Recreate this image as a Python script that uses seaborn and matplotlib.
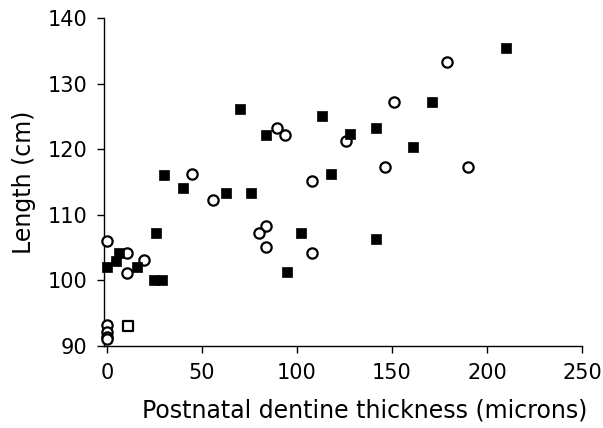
import matplotlib
matplotlib.use("Agg")
import matplotlib.pyplot as plt
import seaborn as sns
import pandas as pd

# Filled squares
sq_x = [0, 4.7, 6.3, 15.8, 24.7, 29, 25.7, 30, 40, 62.5, 75.6, 70, 83.5, 113.4, 128, 141.8,
        161, 171, 118, 102.4, 141.8, 95, 210]
sq_y = [102, 103, 104.2, 102, 100, 100, 107.2, 116.1, 114.1, 113.3, 113.3, 126.1, 122.2, 125.1,
        122.3, 123.2, 120.3, 127.2, 116.2, 107.2, 106.3, 101.3, 135.4]
# Open circles
ci_x = [0, 0, 0, 0, 0, 10.5, 10.5, 19.4, 45, 56, 89.3, 93.5, 126, 151, 146.5, 108, 84, 80, 84,
        108, 179, 190]
ci_y = [106, 93.2, 92.1, 91.4, 91.0, 104.2, 101.1, 103.1, 116.2, 112.2, 123.2, 122.2, 121.2,
        127.2, 117.3, 115.2, 108.3, 107.2, 105.1, 104.2, 133.3, 117.3]
# Open square
os_x = [11]
os_y = [93]

x_ticks = [0, 50, 100, 150, 200, 250]
y_ticks = [90, 100, 110, 120, 130, 140]

sns.set_style("ticks")
plt.rcParams['font.family'] = ['DejaVu Sans']

fig = plt.figure(figsize=(6.03, 4.28), dpi=100)
ax = fig.add_axes([0.1725, 0.1916, 0.965 - 0.1725, 0.958 - 0.1916])

df_sq = pd.DataFrame({"x": sq_x, "y": sq_y})
df_ci = pd.DataFrame({"x": ci_x, "y": ci_y})
df_os = pd.DataFrame({"x": os_x, "y": os_y})

sns.scatterplot(data=df_ci, x="x", y="y", ax=ax, marker="o", s=55, facecolor="white",
                edgecolor="black", linewidth=1.6, clip_on=False, zorder=3)
sns.scatterplot(data=df_sq, x="x", y="y", ax=ax, marker="s", s=62, color="black",
                edgecolor="black", linewidth=0.5, clip_on=False, zorder=4)
sns.scatterplot(data=df_os, x="x", y="y", ax=ax, marker="s", s=55, facecolor="white",
                edgecolor="black", linewidth=1.6, clip_on=False, zorder=4)

ax.set_xlim(-1.5, 250)
ax.set_ylim(90, 140)
ax.set_xticks(x_ticks)
ax.set_yticks(y_ticks)
ax.set_xlabel("Postnatal dentine thickness (microns)", fontsize=17, color="black")
ax.set_ylabel("Length (cm)", fontsize=17, labelpad=8, color="black")
ax.xaxis.set_label_coords(0.545, -0.16)
ax.tick_params(axis="both", labelsize=15, length=5, width=1, color="black",
               labelcolor="black", direction="out", pad=7)
for side in ["top", "right"]:
    ax.spines[side].set_visible(False)
for side in ["left", "bottom"]:
    ax.spines[side].set_color("black")
    ax.spines[side].set_linewidth(1)

fig.savefig("out.png", dpi=100)
